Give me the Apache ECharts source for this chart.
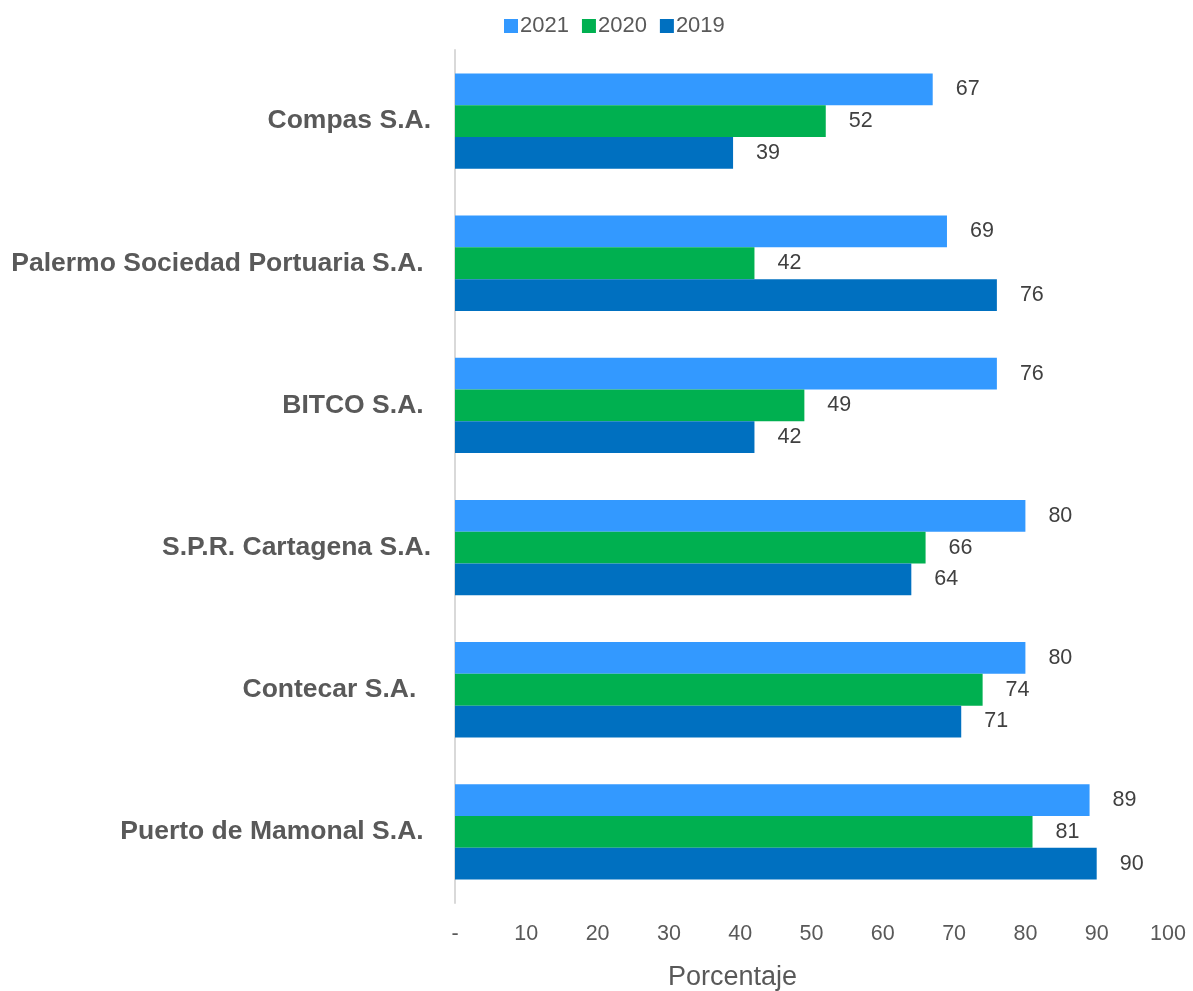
<!DOCTYPE html>
<html>
<head>
<meta charset="utf-8">
<script src="https://cdn.jsdelivr.net/npm/echarts@6/dist/echarts.min.js"></script>
<style>html,body{margin:0;padding:0;background:#fff}#c{width:1193px;height:991px}</style>
</head>
<body>
<div id="c"></div>
<script>
var categories = ['Compas S.A.', 'Palermo Sociedad Portuaria S.A. ', 'BITCO S.A. ', 'S.P.R. Cartagena S.A.', 'Contecar S.A.  ', 'Puerto de Mamonal S.A. '];
var seriesNames = ['2021', '2020', '2019'];
var values2021 = [67, 69, 76, 80, 80, 89];
var values2020 = [52, 42, 49, 66, 74, 81];
var values2019 = [39, 76, 42, 64, 71, 90];
var colors = ['#3399FF', '#00B050', '#0070C0'];

var chart = echarts.init(document.getElementById('c'));
var font = 'Arial, "Liberation Sans", sans-serif';
function mk(name, data, color) {
  return {
    name: name, type: 'bar', data: data,
    barGap: '0%', barCategoryGap: '33%',
    itemStyle: { color: color },
    label: { show: true, position: 'right', distance: 23, color: '#404040', fontSize: 21.5, fontFamily: font },
    animation: false
  };
}
chart.setOption({
  animation: false,
  color: colors,
  legend: {
    top: 10, left: 499, itemWidth: 14, itemHeight: 14, itemGap: 13, icon: 'rect',
    textStyle: { fontSize: 22, color: '#595959', fontFamily: font, padding: [0,0,0,-3] },
    data: seriesNames
  },
  grid: { left: 455, right: 25, top: 50, bottom: 88, containLabel: false, outerBoundsMode: 'none' },
  xAxis: {
    type: 'value', min: 0, max: 100, interval: 10,
    splitLine: { show: false },
    axisLine: { show: false }, axisTick: { show: false },
    axisLabel: { fontSize: 21.5, color: '#595959', fontFamily: font, margin: 20,
      formatter: function (v) { return v === 0 ? '-' : v; } },
    name: 'Porcentaje', nameLocation: 'middle', nameGap: 61,
    nameTextStyle: { fontSize: 27, color: '#595959', fontFamily: font, padding: [0, 158, 0, 0] }
  },
  yAxis: {
    type: 'category', data: categories, inverse: true,
    axisLine: { show: true, lineStyle: { color: '#D9D9D9', width: 2 } },
    axisTick: { show: false },
    axisLabel: { fontSize: 26.5, fontWeight: 'bold', color: '#595959', fontFamily: font, margin: 24 }
  },
  series: [mk('2021', values2021, colors[0]), mk('2020', values2020, colors[1]), mk('2019', values2019, colors[2])]
});
</script>
</body>
</html>
